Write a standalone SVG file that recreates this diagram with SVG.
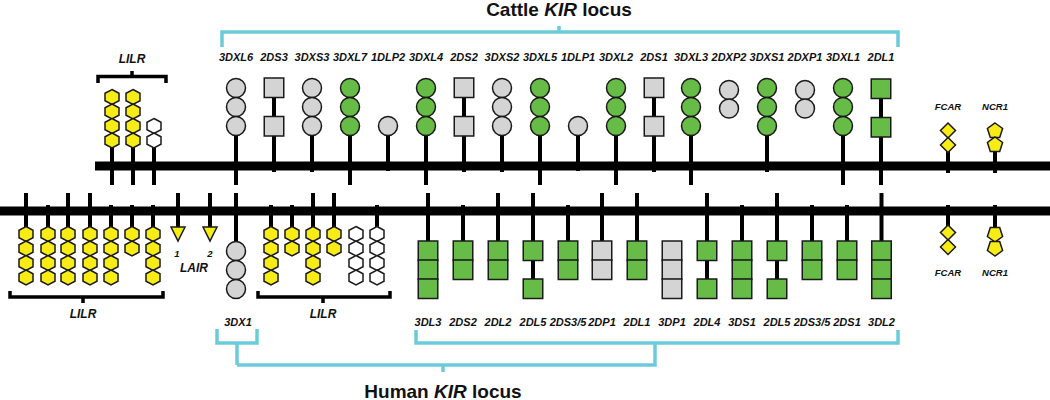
<svg xmlns="http://www.w3.org/2000/svg" xmlns:xlink="http://www.w3.org/1999/xlink" width="1050" height="400" viewBox="0 0 1050 400">
<style>
.bar{stroke:#000;stroke-width:9}
.st{stroke:#000;stroke-width:4}
.sh{stroke:#1a1a1a;stroke-width:1.5}
.g{fill:#67bc47}
.gr{fill:#d4d4d4}
.y{fill:#f8ec17}
.w{fill:#fff}
.br{fill:none;stroke:#6ccbdb;stroke-width:3.5}
.bk{fill:none;stroke:#000;stroke-width:3.5}
text{font-family:"Liberation Sans",Arial,sans-serif;font-weight:bold;text-anchor:middle;fill:#111}
.lb{font-size:11px;font-style:italic}
.sm{font-size:9.5px;font-style:italic}
.ll{font-size:12px;font-style:italic}
.tt{font-size:19px}
</style>
<defs>
<polygon id="hex" points="0,-7.5 7,-3.75 7,3.75 0,7.5 -7,3.75 -7,-3.75" stroke="#1a1a1a" stroke-width="1.5"/>
<circle id="cir" r="9.5" stroke="#1a1a1a" stroke-width="1.5"/>
<rect id="sq" x="-9.75" y="0" width="19.5" height="19.5" stroke="#1a1a1a" stroke-width="1.5"/>
<polygon id="dia" points="0,-7.5 7.5,0 0,7.5 -7.5,0" stroke="#1a1a1a" stroke-width="1.5"/>
<polygon id="pent" points="0,-8 7.6,-2.5 4.7,6.5 -4.7,6.5 -7.6,-2.5" stroke="#1a1a1a" stroke-width="1.5"/>
<polygon id="tri" points="-7,0 7,0 0,14" stroke="#1a1a1a" stroke-width="1.5"/>
</defs>

<g id="titles">
<text class="tt" x="559" y="16">Cattle <tspan font-style="italic">KIR</tspan> locus</text>
<text class="tt" x="443" y="398">Human <tspan font-style="italic">KIR</tspan> locus</text>
</g>

<g id="connectors">
<line class="bar" x1="95" y1="166" x2="1050" y2="166"/>
<line class="bar" x1="0" y1="211" x2="1050" y2="211"/>
<path class="br" d="M222,47 V32 H898 V47 M559,32 V26"/>
<path class="br" d="M416,330 V343 H898 V330 M655,343 V365 H237 M217,329 V343 H257 V329 M237,343 V365 M443,365 V372"/>
<path class="bk" d="M98,83 V76.5 H166 V83 M132,76.5 V71"/>
<path class="bk" d="M10,291 V297 H163 V291 M83,297 V303"/>
<path class="bk" d="M258,291 V297 H390 V291 M323,297 V303"/>
</g>

<g id="cattle-LILR">
<text class="ll" x="132" y="63">LILR</text>
<line class="st" x1="112" y1="97" x2="112" y2="185"/>
<line class="st" x1="133" y1="97" x2="133" y2="185"/>
<line class="st" x1="154" y1="126" x2="154" y2="185"/>
<use href="#hex" class="y" x="112" y="97"/><use href="#hex" class="y" x="112" y="111.5"/><use href="#hex" class="y" x="112" y="126"/><use href="#hex" class="y" x="112" y="140.5"/>
<use href="#hex" class="y" x="133" y="97"/><use href="#hex" class="y" x="133" y="111.5"/><use href="#hex" class="y" x="133" y="126"/><use href="#hex" class="y" x="133" y="140.5"/>
<use href="#hex" class="w" x="154" y="126"/><use href="#hex" class="w" x="154" y="140.5"/>
</g>

<g id="c-3DXL6"><text class="lb" x="236" y="61">3DXL6</text><line class="st" x1="236" y1="126" x2="236" y2="185"/><use href="#cir" class="gr" x="236" y="88"/><use href="#cir" class="gr" x="236" y="107"/><use href="#cir" class="gr" x="236" y="126"/></g>
<g id="c-2DS3"><text class="lb" x="274" y="61">2DS3</text><line class="st" x1="274" y1="88" x2="274" y2="172"/><use href="#sq" class="gr" x="274" y="78"/><use href="#sq" class="gr" x="274" y="116.5"/></g>
<g id="c-3DXS3"><text class="lb" x="312" y="61">3DXS3</text><line class="st" x1="312" y1="126" x2="312" y2="172"/><use href="#cir" class="gr" x="312" y="88"/><use href="#cir" class="gr" x="312" y="107"/><use href="#cir" class="gr" x="312" y="126"/></g>
<g id="c-3DXL7"><text class="lb" x="350" y="61">3DXL7</text><line class="st" x1="350" y1="126" x2="350" y2="185"/><use href="#cir" class="g" x="350" y="88"/><use href="#cir" class="g" x="350" y="107"/><use href="#cir" class="g" x="350" y="126"/></g>
<g id="c-1DLP2"><text class="lb" x="388" y="61">1DLP2</text><line class="st" x1="388" y1="126" x2="388" y2="171"/><use href="#cir" class="gr" x="388" y="126"/></g>
<g id="c-3DXL4"><text class="lb" x="426" y="61">3DXL4</text><line class="st" x1="426" y1="126" x2="426" y2="185"/><use href="#cir" class="g" x="426" y="88"/><use href="#cir" class="g" x="426" y="107"/><use href="#cir" class="g" x="426" y="126"/></g>
<g id="c-2DS2"><text class="lb" x="464" y="61">2DS2</text><line class="st" x1="464" y1="88" x2="464" y2="172"/><use href="#sq" class="gr" x="464" y="78"/><use href="#sq" class="gr" x="464" y="116.5"/></g>
<g id="c-3DXS2"><text class="lb" x="502" y="61">3DXS2</text><line class="st" x1="502" y1="126" x2="502" y2="172"/><use href="#cir" class="gr" x="502" y="88"/><use href="#cir" class="gr" x="502" y="107"/><use href="#cir" class="gr" x="502" y="126"/></g>
<g id="c-3DXL5"><text class="lb" x="540" y="61">3DXL5</text><line class="st" x1="540" y1="126" x2="540" y2="185"/><use href="#cir" class="g" x="540" y="88"/><use href="#cir" class="g" x="540" y="107"/><use href="#cir" class="g" x="540" y="126"/></g>
<g id="c-1DLP1"><text class="lb" x="578" y="61">1DLP1</text><line class="st" x1="578" y1="126" x2="578" y2="171"/><use href="#cir" class="gr" x="578" y="126"/></g>
<g id="c-3DXL2"><text class="lb" x="616" y="61">3DXL2</text><line class="st" x1="616" y1="126" x2="616" y2="185"/><use href="#cir" class="g" x="616" y="88"/><use href="#cir" class="g" x="616" y="107"/><use href="#cir" class="g" x="616" y="126"/></g>
<g id="c-2DS1"><text class="lb" x="654" y="61">2DS1</text><line class="st" x1="654" y1="88" x2="654" y2="172"/><use href="#sq" class="gr" x="654" y="78"/><use href="#sq" class="gr" x="654" y="116.5"/></g>
<g id="c-3DXL3"><text class="lb" x="691" y="61">3DXL3</text><line class="st" x1="691" y1="126" x2="691" y2="185"/><use href="#cir" class="g" x="691" y="88"/><use href="#cir" class="g" x="691" y="107"/><use href="#cir" class="g" x="691" y="126"/></g>
<g id="c-2DXP2"><text class="lb" x="729" y="61">2DXP2</text><use href="#cir" class="gr" x="729" y="90"/><use href="#cir" class="gr" x="729" y="108.5"/></g>
<g id="c-3DXS1"><text class="lb" x="767" y="61">3DXS1</text><line class="st" x1="767" y1="126" x2="767" y2="172"/><use href="#cir" class="g" x="767" y="88"/><use href="#cir" class="g" x="767" y="107"/><use href="#cir" class="g" x="767" y="126"/></g>
<g id="c-2DXP1"><text class="lb" x="805" y="61">2DXP1</text><use href="#cir" class="gr" x="805" y="90"/><use href="#cir" class="gr" x="805" y="108.5"/></g>
<g id="c-3DXL1"><text class="lb" x="843" y="61">3DXL1</text><line class="st" x1="843" y1="126" x2="843" y2="185"/><use href="#cir" class="g" x="843" y="88"/><use href="#cir" class="g" x="843" y="107"/><use href="#cir" class="g" x="843" y="126"/></g>
<g id="c-2DL1"><text class="lb" x="881" y="61">2DL1</text><line class="st" x1="881" y1="88" x2="881" y2="185"/><use href="#sq" class="g" x="881" y="79"/><use href="#sq" class="g" x="881" y="117.5"/></g>
<g id="c-FCAR"><text class="sm" x="948" y="110">FCAR</text><line class="st" x1="948" y1="145" x2="948" y2="173"/><use href="#dia" class="y" x="948" y="130.5"/><use href="#dia" class="y" x="948" y="145"/></g>
<g id="c-NCR1"><text class="sm" x="995" y="110">NCR1</text><line class="st" x1="995" y1="145" x2="995" y2="173"/><use href="#pent" class="y" x="995" y="131"/><use href="#pent" class="y" x="995" y="145"/></g>

<g id="human-LILR-left">
<text class="ll" x="83" y="318">LILR</text>
<line class="st" x1="26" y1="193" x2="26" y2="240"/>
<line class="st" x1="48" y1="205" x2="48" y2="240"/>
<line class="st" x1="68" y1="193" x2="68" y2="240"/>
<line class="st" x1="90" y1="193" x2="90" y2="240"/>
<line class="st" x1="111" y1="205" x2="111" y2="240"/>
<line class="st" x1="132" y1="205" x2="132" y2="240"/>
<line class="st" x1="153" y1="205" x2="153" y2="240"/>
<use href="#hex" class="y" x="26" y="234"/><use href="#hex" class="y" x="26" y="248.5"/><use href="#hex" class="y" x="26" y="263"/><use href="#hex" class="y" x="26" y="277.5"/>
<use href="#hex" class="y" x="48" y="234"/><use href="#hex" class="y" x="48" y="248.5"/><use href="#hex" class="y" x="48" y="263"/><use href="#hex" class="y" x="48" y="277.5"/>
<use href="#hex" class="y" x="68" y="234"/><use href="#hex" class="y" x="68" y="248.5"/><use href="#hex" class="y" x="68" y="263"/><use href="#hex" class="y" x="68" y="277.5"/>
<use href="#hex" class="y" x="90" y="234"/><use href="#hex" class="y" x="90" y="248.5"/><use href="#hex" class="y" x="90" y="263"/><use href="#hex" class="y" x="90" y="277.5"/>
<use href="#hex" class="y" x="111" y="234"/><use href="#hex" class="y" x="111" y="248.5"/><use href="#hex" class="y" x="111" y="263"/><use href="#hex" class="y" x="111" y="277.5"/>
<use href="#hex" class="y" x="132" y="234"/><use href="#hex" class="y" x="132" y="248.5"/>
<use href="#hex" class="y" x="153" y="234"/><use href="#hex" class="y" x="153" y="248.5"/><use href="#hex" class="y" x="153" y="263"/><use href="#hex" class="y" x="153" y="277.5"/>
</g>

<g id="h-LAIR">
<line class="st" x1="178" y1="193" x2="178" y2="228"/>
<line class="st" x1="210" y1="193" x2="210" y2="228"/>
<use href="#tri" class="y" x="178" y="227"/>
<use href="#tri" class="y" x="210" y="227"/>
<text class="sm" x="177" y="257">1</text>
<text class="sm" x="210" y="257">2</text>
<text class="ll" x="194" y="272">LAIR</text>
</g>

<g id="h-3DX1"><text class="lb" x="238" y="326">3DX1</text><line class="st" x1="236" y1="193" x2="236" y2="251"/><use href="#cir" class="gr" x="236" y="251"/><use href="#cir" class="gr" x="236" y="270"/><use href="#cir" class="gr" x="236" y="289"/></g>

<g id="human-LILR-mid">
<text class="ll" x="323" y="318">LILR</text>
<line class="st" x1="271" y1="205" x2="271" y2="240"/>
<line class="st" x1="292" y1="205" x2="292" y2="240"/>
<line class="st" x1="313" y1="193" x2="313" y2="240"/>
<line class="st" x1="334" y1="193" x2="334" y2="240"/>
<line class="st" x1="377" y1="205" x2="377" y2="240"/>
<use href="#hex" class="y" x="271" y="234"/><use href="#hex" class="y" x="271" y="248.5"/><use href="#hex" class="y" x="271" y="263"/><use href="#hex" class="y" x="271" y="277.5"/>
<use href="#hex" class="y" x="292" y="234"/><use href="#hex" class="y" x="292" y="248.5"/>
<use href="#hex" class="y" x="313" y="234"/><use href="#hex" class="y" x="313" y="248.5"/><use href="#hex" class="y" x="313" y="263"/><use href="#hex" class="y" x="313" y="277.5"/>
<use href="#hex" class="y" x="334" y="234"/><use href="#hex" class="y" x="334" y="248.5"/>
<use href="#hex" class="w" x="356" y="234"/><use href="#hex" class="w" x="356" y="248.5"/><use href="#hex" class="w" x="356" y="263"/><use href="#hex" class="w" x="356" y="277.5"/>
<use href="#hex" class="w" x="377" y="234"/><use href="#hex" class="w" x="377" y="248.5"/><use href="#hex" class="w" x="377" y="263"/><use href="#hex" class="w" x="377" y="277.5"/>
</g>

<g id="h-3DL3"><text class="lb" x="428" y="326">3DL3</text><line class="st" x1="428" y1="193" x2="428" y2="242"/><use href="#sq" class="g" x="428" y="241"/><use href="#sq" class="g" x="428" y="260"/><use href="#sq" class="g" x="428" y="279"/></g>
<g id="h-2DS2"><text class="lb" x="463" y="326">2DS2</text><line class="st" x1="463" y1="205" x2="463" y2="242"/><use href="#sq" class="g" x="463" y="241"/><use href="#sq" class="g" x="463" y="260"/></g>
<g id="h-2DL2"><text class="lb" x="498" y="326">2DL2</text><line class="st" x1="498" y1="193" x2="498" y2="242"/><use href="#sq" class="g" x="498" y="241"/><use href="#sq" class="g" x="498" y="260"/></g>
<g id="h-2DL5a"><text class="lb" x="533" y="326">2DL5</text><line class="st" x1="533" y1="193" x2="533" y2="285"/><use href="#sq" class="g" x="533" y="241"/><use href="#sq" class="g" x="533" y="279"/></g>
<g id="h-2DS35a"><text class="lb" x="568" y="326">2DS3/5</text><line class="st" x1="568" y1="205" x2="568" y2="242"/><use href="#sq" class="g" x="568" y="241"/><use href="#sq" class="g" x="568" y="260"/></g>
<g id="h-2DP1"><text class="lb" x="602" y="326">2DP1</text><line class="st" x1="602" y1="193" x2="602" y2="242"/><use href="#sq" class="gr" x="602" y="241"/><use href="#sq" class="gr" x="602" y="260"/></g>
<g id="h-2DL1"><text class="lb" x="637" y="326">2DL1</text><line class="st" x1="637" y1="193" x2="637" y2="242"/><use href="#sq" class="g" x="637" y="241"/><use href="#sq" class="g" x="637" y="260"/></g>
<g id="h-3DP1"><text class="lb" x="672" y="326">3DP1</text><use href="#sq" class="gr" x="672" y="241"/><use href="#sq" class="gr" x="672" y="260"/><use href="#sq" class="gr" x="672" y="279"/></g>
<g id="h-2DL4"><text class="lb" x="707" y="326">2DL4</text><line class="st" x1="707" y1="193" x2="707" y2="285"/><use href="#sq" class="g" x="707" y="241"/><use href="#sq" class="g" x="707" y="279"/></g>
<g id="h-3DS1"><text class="lb" x="742" y="326">3DS1</text><line class="st" x1="742" y1="205" x2="742" y2="242"/><use href="#sq" class="g" x="742" y="241"/><use href="#sq" class="g" x="742" y="260"/><use href="#sq" class="g" x="742" y="279"/></g>
<g id="h-2DL5b"><text class="lb" x="777" y="326">2DL5</text><line class="st" x1="777" y1="193" x2="777" y2="285"/><use href="#sq" class="g" x="777" y="241"/><use href="#sq" class="g" x="777" y="279"/></g>
<g id="h-2DS35b"><text class="lb" x="812" y="326">2DS3/5</text><line class="st" x1="812" y1="205" x2="812" y2="242"/><use href="#sq" class="g" x="812" y="241"/><use href="#sq" class="g" x="812" y="260"/></g>
<g id="h-2DS1"><text class="lb" x="847" y="326">2DS1</text><line class="st" x1="847" y1="205" x2="847" y2="242"/><use href="#sq" class="g" x="847" y="241"/><use href="#sq" class="g" x="847" y="260"/></g>
<g id="h-3DL2"><text class="lb" x="881.5" y="326">3DL2</text><line class="st" x1="881.5" y1="193" x2="881.5" y2="242"/><use href="#sq" class="g" x="881.5" y="241"/><use href="#sq" class="g" x="881.5" y="260"/><use href="#sq" class="g" x="881.5" y="279"/></g>
<g id="h-FCAR"><text class="sm" x="948" y="276">FCAR</text><line class="st" x1="948" y1="205" x2="948" y2="233"/><use href="#dia" class="y" x="948" y="232.5"/><use href="#dia" class="y" x="948" y="247"/></g>
<g id="h-NCR1"><text class="sm" x="995" y="276">NCR1</text><line class="st" x1="995" y1="205" x2="995" y2="233"/><use href="#pent" class="y" x="995" y="234" transform="rotate(180 995 234)"/><use href="#pent" class="y" x="995" y="248" transform="rotate(180 995 248)"/></g>
</svg>
